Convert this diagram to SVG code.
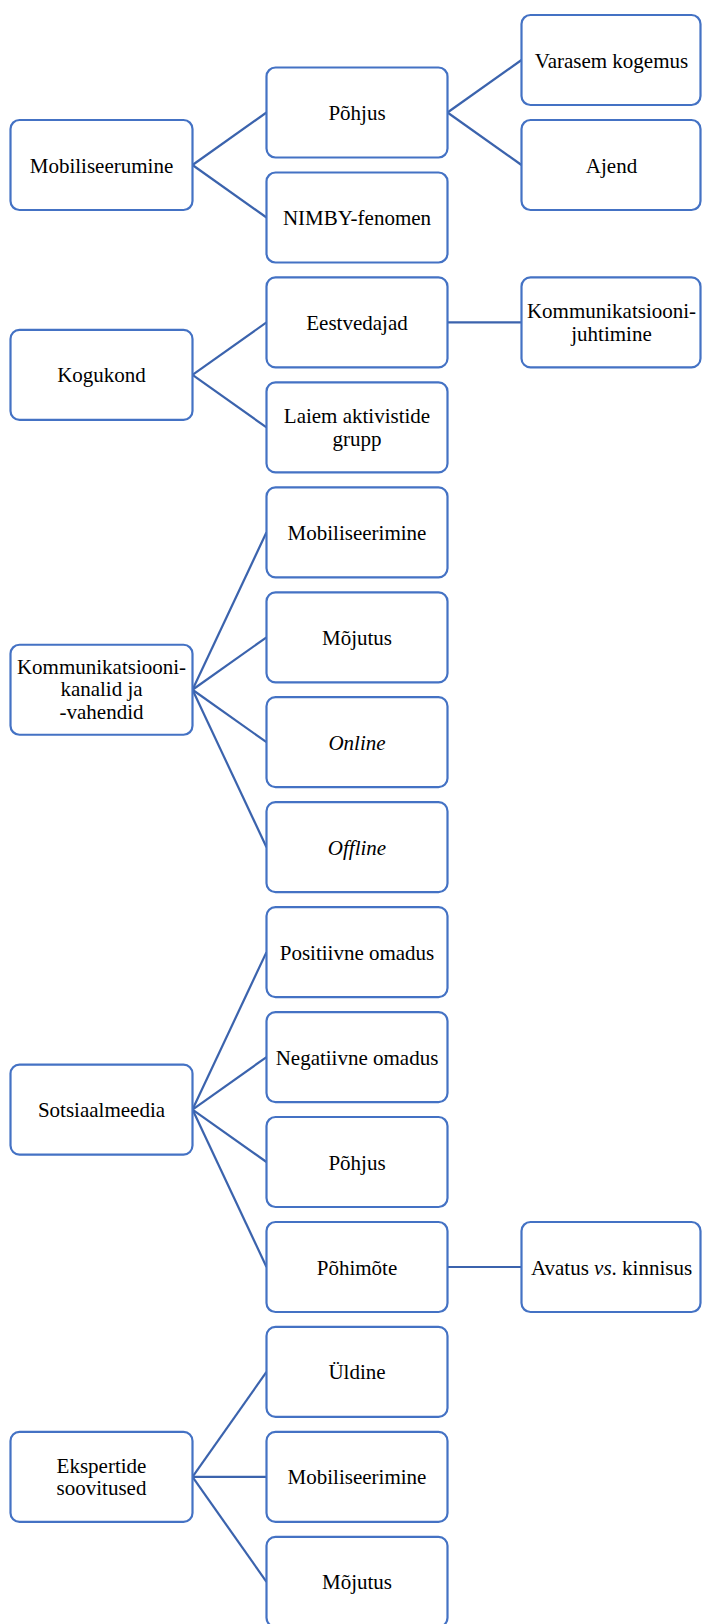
<svg xmlns="http://www.w3.org/2000/svg" width="702" height="1624" viewBox="0 0 702 1624">
<style>
.b{fill:#fff;stroke:#4472C4;stroke-width:2.2}
.t{font-size:21px;fill:#000;text-anchor:middle}
.i{font-style:italic}
#connectors line{stroke:#3B63AD;stroke-width:2.2}
</style>
<rect width="702" height="1624" fill="#fff"/>
<g id="connectors">
<line x1="192.5" y1="165" x2="266.5" y2="112.5"/>
<line x1="192.5" y1="165" x2="266.5" y2="217.5"/>
<line x1="447.5" y1="112.5" x2="521.5" y2="60"/>
<line x1="447.5" y1="112.5" x2="521.5" y2="165"/>
<line x1="192.5" y1="374.9" x2="266.5" y2="322.4"/>
<line x1="192.5" y1="374.9" x2="266.5" y2="427.4"/>
<line x1="447.5" y1="322.4" x2="521.5" y2="322.4"/>
<line x1="192.5" y1="689.75" x2="266.5" y2="532.3"/>
<line x1="192.5" y1="689.75" x2="266.5" y2="637.3"/>
<line x1="192.5" y1="689.75" x2="266.5" y2="742.2"/>
<line x1="192.5" y1="689.75" x2="266.5" y2="847.2"/>
<line x1="192.5" y1="1109.55" x2="266.5" y2="952.1"/>
<line x1="192.5" y1="1109.55" x2="266.5" y2="1057.1"/>
<line x1="192.5" y1="1109.55" x2="266.5" y2="1162"/>
<line x1="192.5" y1="1109.55" x2="266.5" y2="1267"/>
<line x1="447.5" y1="1267" x2="521.5" y2="1267"/>
<line x1="192.5" y1="1476.9" x2="266.5" y2="1371.9"/>
<line x1="192.5" y1="1476.9" x2="266.5" y2="1476.9"/>
<line x1="192.5" y1="1476.9" x2="266.5" y2="1581.8"/>
</g>
<g font-family="'Liberation Serif', 'Times New Roman', 'DejaVu Serif', serif">
<g id="n-mobiliseerumine"><rect class="b" x="10.5" y="120" width="182" height="90" rx="9"/><text class="t" x="101.5" y="172.5">Mobiliseerumine</text></g>
<g id="n-pohjus1"><rect class="b" x="266.5" y="67.5" width="181" height="90" rx="9"/><text class="t" x="357" y="120">Põhjus</text></g>
<g id="n-nimby"><rect class="b" x="266.5" y="172.5" width="181" height="90" rx="9"/><text class="t" x="357" y="225">NIMBY-fenomen</text></g>
<g id="n-varasem"><rect class="b" x="521.5" y="15" width="179" height="90" rx="9"/><text class="t" x="611.5" y="67.5">Varasem kogemus</text></g>
<g id="n-ajend"><rect class="b" x="521.5" y="120" width="179" height="90" rx="9"/><text class="t" x="611.5" y="172.5">Ajend</text></g>

<g id="n-kogukond"><rect class="b" x="10.5" y="329.9" width="182" height="90" rx="9"/><text class="t" x="101.5" y="382.4">Kogukond</text></g>
<g id="n-eestvedajad"><rect class="b" x="266.5" y="277.4" width="181" height="90" rx="9"/><text class="t" x="357" y="329.9">Eestvedajad</text></g>
<g id="n-laiem"><rect class="b" x="266.5" y="382.4" width="181" height="90" rx="9"/><text class="t" x="357" y="423">Laiem aktivistide<tspan x="357" dy="22.5">grupp</tspan></text></g>
<g id="n-kommjuht"><rect class="b" x="521.5" y="277.4" width="179" height="90" rx="9"/><text class="t" x="611.5" y="318">Kommunikatsiooni-<tspan x="611.5" dy="22.5">juhtimine</tspan></text></g>

<g id="n-kanalid"><rect class="b" x="10.5" y="644.75" width="182" height="90" rx="9"/><text class="t" x="101.5" y="674">Kommunikatsiooni-<tspan x="101.5" dy="22.3">kanalid ja</tspan><tspan x="101.5" dy="22.3">-vahendid</tspan></text></g>
<g id="n-mobiliseerimine1"><rect class="b" x="266.5" y="487.3" width="181" height="90" rx="9"/><text class="t" x="357" y="539.8">Mobiliseerimine</text></g>
<g id="n-mojutus1"><rect class="b" x="266.5" y="592.3" width="181" height="90" rx="9"/><text class="t" x="357" y="644.8">Mõjutus</text></g>
<g id="n-online"><rect class="b" x="266.5" y="697.2" width="181" height="90" rx="9"/><text class="t i" x="357" y="749.7">Online</text></g>
<g id="n-offline"><rect class="b" x="266.5" y="802.2" width="181" height="90" rx="9"/><text class="t i" x="357" y="854.7">Offline</text></g>

<g id="n-sotsiaalmeedia"><rect class="b" x="10.5" y="1064.55" width="182" height="90" rx="9"/><text class="t" x="101.5" y="1117">Sotsiaalmeedia</text></g>
<g id="n-positiivne"><rect class="b" x="266.5" y="907.1" width="181" height="90" rx="9"/><text class="t" x="357" y="959.6">Positiivne omadus</text></g>
<g id="n-negatiivne"><rect class="b" x="266.5" y="1012.1" width="181" height="90" rx="9"/><text class="t" x="357" y="1064.6">Negatiivne omadus</text></g>
<g id="n-pohjus2"><rect class="b" x="266.5" y="1117" width="181" height="90" rx="9"/><text class="t" x="357" y="1169.5">Põhjus</text></g>
<g id="n-pohimote"><rect class="b" x="266.5" y="1222" width="181" height="90" rx="9"/><text class="t" x="357" y="1274.5">Põhimõte</text></g>
<g id="n-avatus"><rect class="b" x="521.5" y="1222" width="179" height="90" rx="9"/><text class="t" x="611.5" y="1274.5">Avatus <tspan class="i">vs</tspan>. kinnisus</text></g>

<g id="n-ekspertide"><rect class="b" x="10.5" y="1431.9" width="182" height="90" rx="9"/><text class="t" x="101.5" y="1472.5">Ekspertide<tspan x="101.5" dy="22.8">soovitused</tspan></text></g>
<g id="n-uldine"><rect class="b" x="266.5" y="1326.9" width="181" height="90" rx="9"/><text class="t" x="357" y="1379.4">Üldine</text></g>
<g id="n-mobiliseerimine2"><rect class="b" x="266.5" y="1431.9" width="181" height="90" rx="9"/><text class="t" x="357" y="1484.4">Mobiliseerimine</text></g>
<g id="n-mojutus2"><rect class="b" x="266.5" y="1536.8" width="181" height="90" rx="9"/><text class="t" x="357" y="1589.3">Mõjutus</text></g>
</g>
</svg>
